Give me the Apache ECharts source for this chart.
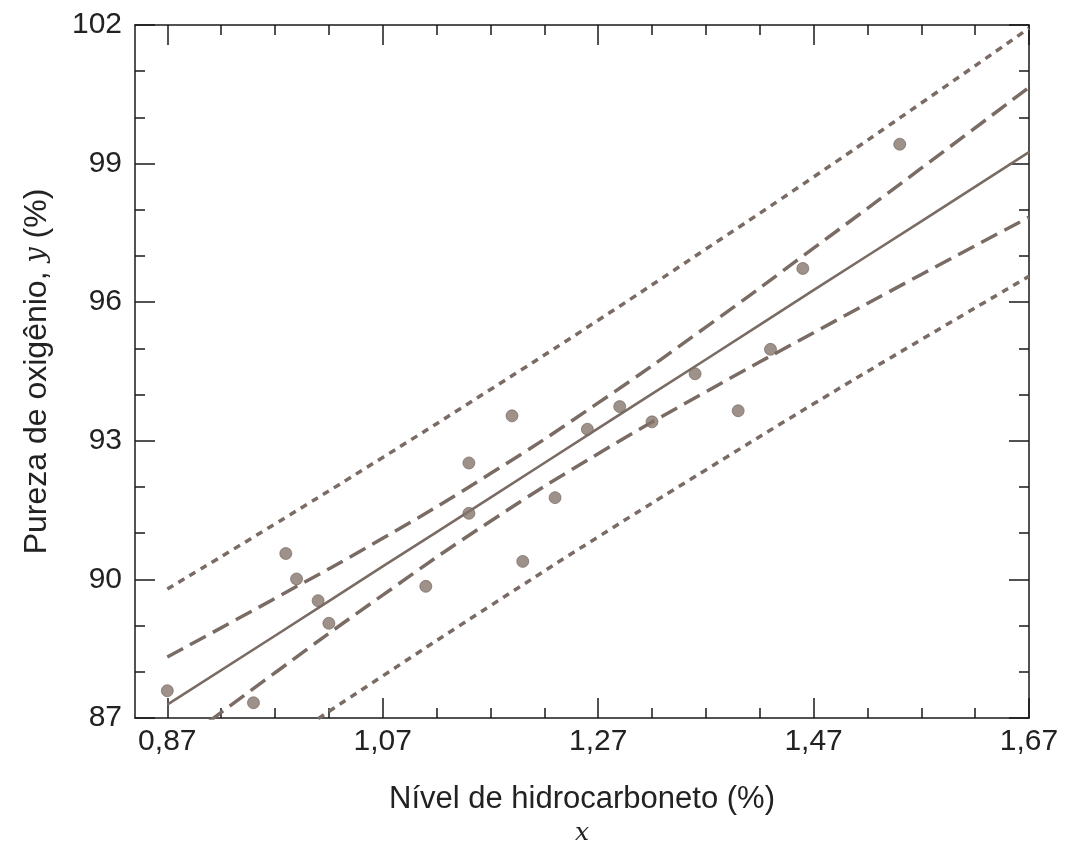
<!DOCTYPE html>
<html>
<head>
<meta charset="utf-8">
<script src="https://cdn.jsdelivr.net/npm/echarts@6/dist/echarts.min.js"></script>
<style>
html,body{margin:0;padding:0;background:#fff;}
#chart{width:1070px;height:842px;}
</style>
</head>
<body>
<div id="chart"></div>
<script>
// Observed data (hydrocarbon level x, oxygen purity y)
const xData = [0.99, 1.02, 1.15, 1.29, 1.46, 1.36, 0.87, 1.23, 1.55, 1.40, 1.19, 1.15, 0.98, 1.01, 1.11, 1.20, 1.26, 1.32, 1.43, 0.95];
const yData = [90.01, 89.05, 91.43, 93.74, 96.73, 94.45, 87.59, 91.77, 99.42, 93.65, 93.54, 92.52, 90.56, 89.54, 89.85, 90.39, 93.25, 93.41, 94.98, 87.33];

// Curves
const curveX  = [0.87, 0.97, 1.07, 1.17, 1.27, 1.37, 1.47, 1.57, 1.67];
const fitY    = [87.29, 88.78, 90.28, 91.77, 93.27, 94.76, 96.26, 97.75, 99.25];
const ciUpper = [88.32, 89.59, 90.89, 92.29, 93.82, 95.46, 97.17, 98.90, 100.65];
const ciLower = [86.25, 87.98, 89.66, 91.26, 92.72, 94.06, 95.34, 96.60, 97.84];
const piUpper = [89.79, 91.20, 92.64, 94.11, 95.61, 97.15, 98.71, 100.31, 101.93];
const piLower = [84.78, 86.36, 87.91, 89.43, 90.92, 92.37, 93.80, 95.19, 96.56];

// Axis ticks
const xMajorTicks = [0.87, 1.07, 1.27, 1.47, 1.67];
const xMinorTicks = [0.92, 0.97, 1.02, 1.12, 1.17, 1.22, 1.32, 1.37, 1.42, 1.52, 1.57, 1.62];
const xMin = 0.84, xMax = 1.67;
const yMin = 87, yMax = 102, yStep = 3;

const pair = (xs, ys) => xs.map((x, i) => [x, ys[i]]);

const axisColor = '#1a1a1a';
const lineCol = '#7a6c65';
const pointCol = '#85766b';
const labelFont = '"Liberation Sans", Arial, sans-serif';

function xAxisDef(pos, ticks, len, showLabel, showLine) {
  return {
    type: 'value', min: xMin, max: xMax, position: pos,
    axisLine: { show: showLine, onZero: false, lineStyle: { color: axisColor, width: 1.5 } },
    axisTick: { show: true, inside: true, length: len, customValues: ticks,
      lineStyle: { color: axisColor, width: 1.5 } },
    axisLabel: { show: showLabel, customValues: ticks, margin: 9,
      formatter: v => v.toFixed(2).replace('.', ','),
      fontFamily: labelFont, fontSize: 30, color: '#222' },
    splitLine: { show: false }
  };
}

const xAxes = [
  Object.assign(xAxisDef('bottom', xMajorTicks, 20, true, true), {
    name: '{a|Nível de hidrocarboneto (%)}\n{b|x}',
    nameLocation: 'middle', nameGap: 61,
    nameTextStyle: {
      rich: {
        a: { fontFamily: labelFont, fontSize: 31, color: '#222', lineHeight: 40, align: 'center' },
        b: { fontFamily: '"DejaVu Serif", "Liberation Serif", serif', fontStyle: 'italic', fontSize: 25, color: '#222', lineHeight: 28, align: 'center' }
      }
    }
  }),
  xAxisDef('bottom', xMinorTicks, 10, false, false),
  xAxisDef('top', xMajorTicks, 20, false, true),
  xAxisDef('top', xMinorTicks, 10, false, false)
];

function yAxisDef(pos, showLabel) {
  return {
    type: 'value', min: yMin, max: yMax, interval: yStep, position: pos,
    axisLine: { show: true, onZero: false, lineStyle: { color: axisColor, width: 1.5 } },
    axisTick: { show: true, inside: true, length: 20, lineStyle: { color: axisColor, width: 1.5 } },
    minorTick: { show: true, splitNumber: 3, length: 10, lineStyle: { color: axisColor, width: 1.5 } },
    axisLabel: { show: showLabel, margin: 13, fontFamily: labelFont, fontSize: 30, color: '#222' },
    splitLine: { show: false },
    minorSplitLine: { show: false }
  };
}

const yAxes = [
  Object.assign(yAxisDef('left', true), {
    name: 'Pureza de oxigênio, {i|y} (%)',
    nameLocation: 'middle', nameGap: 82, nameRotate: 90,
    nameTextStyle: {
      fontFamily: labelFont, fontSize: 32, color: '#222',
      rich: { i: { fontFamily: '"DejaVu Serif", "Liberation Serif", serif', fontStyle: 'italic', fontSize: 27, color: '#222' } }
    }
  }),
  yAxisDef('right', false)
];

function lineSeries(name, ys, dash, w) {
  return {
    name: name, type: 'line', xAxisIndex: 0, yAxisIndex: 0,
    data: pair(curveX, ys), symbol: 'none', smooth: true, clip: true,
    lineStyle: { color: lineCol, width: w, type: dash },
    emphasis: { disabled: true },
    z: 3
  };
}

const chart = echarts.init(document.getElementById('chart'), null, { renderer: 'canvas' });
chart.setOption({
  backgroundColor: '#ffffff',
  animation: false,
  grid: { left: 135, right: 41, top: 25, bottom: 124, containLabel: false, outerBoundsMode: 'none' },
  xAxis: xAxes,
  yAxis: yAxes,
  series: [
    lineSeries('Intervalo de previsão superior', piUpper, [7, 6], 3.5),
    lineSeries('Intervalo de previsão inferior', piLower, [7, 6], 3.5),
    lineSeries('Intervalo de confiança superior', ciUpper, [18, 8], 3.5),
    lineSeries('Intervalo de confiança inferior', ciLower, [18, 8], 3.5),
    lineSeries('Reta ajustada', fitY, 'solid', 2.6),
    {
      name: 'Observações', type: 'scatter', xAxisIndex: 0, yAxisIndex: 0,
      data: pair(xData, yData), symbol: 'circle', symbolSize: 12,
      itemStyle: { color: pointCol, borderColor: '#6e6058', borderWidth: 0.8 },
      emphasis: { disabled: true },
      z: 5
    }
  ]
});
</script>
</body>
</html>
